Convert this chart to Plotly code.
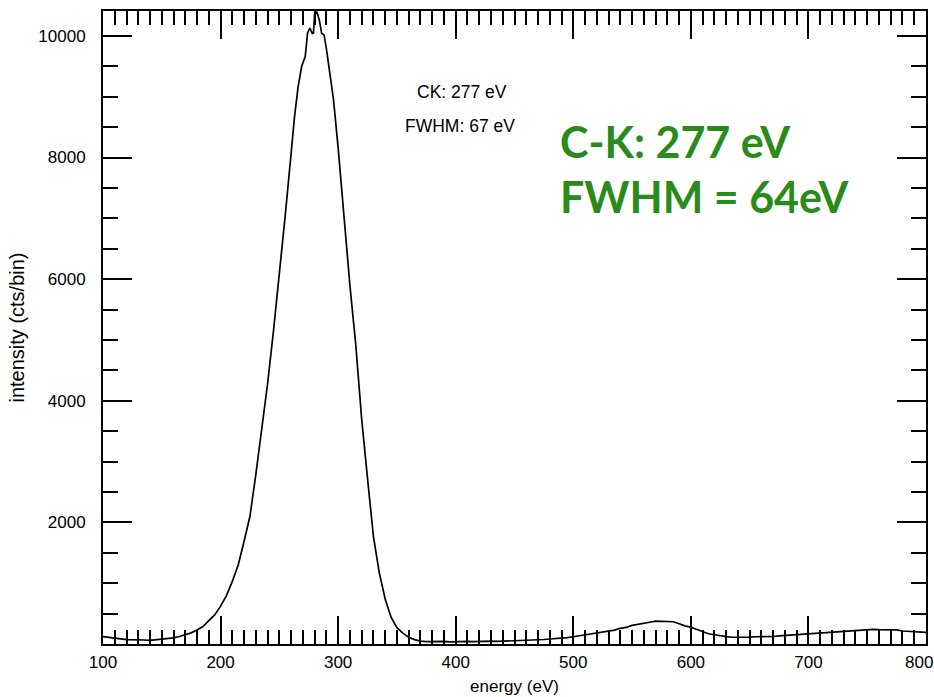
import plotly.graph_objects as go

# Energy grid (eV) and measured counts per bin
energy = [
    100, 105, 110, 115, 120, 125, 130, 135, 140, 145, 150, 155, 160, 165, 170, 175,
    180, 185, 190, 195, 200, 205, 210, 215, 220, 225, 230, 235, 240, 245, 250, 255,
    260, 263, 266, 269, 272, 274, 276, 278, 279, 280, 282, 284, 286, 288, 290, 293,
    296, 300, 305, 310, 315, 320, 325, 330, 335, 340, 345, 350, 355, 360, 365, 370,
    375, 380, 385, 390, 395, 400, 405, 410, 415, 420, 425, 430, 435, 440, 445, 450,
    455, 460, 465, 470, 475, 480, 485, 490, 495, 500, 505, 510, 515, 520, 525, 530,
    535, 540, 545, 550, 555, 560, 565, 570, 575, 580, 585, 590, 595, 600, 605, 610,
    615, 620, 625, 630, 635, 640, 645, 650, 655, 660, 665, 670, 675, 680, 685, 690,
    695, 700, 705, 710, 715, 720, 725, 730, 735, 740, 745, 750, 755, 760, 765, 770,
    775, 780, 785, 790, 795, 800,
]
counts = [
    120, 104, 92, 84, 72, 66, 60, 66, 61, 70, 73, 86, 101, 124, 152, 183,
    232, 288, 384, 478, 622, 796, 1030, 1300, 1690, 2100, 2790, 3520, 4280, 5150, 6080, 7050,
    8070, 8690, 9170, 9500, 9660, 10050, 10130, 10040, 10050, 10350, 10390, 10260, 10040, 10020, 9790, 9390,
    8960, 8160, 7010, 5900, 4920, 3700, 2720, 1770, 1170, 740, 440, 268, 178, 112, 72, 48,
    38, 41, 36, 43, 35, 40, 37, 43, 39, 45, 40, 47, 42, 45, 49, 52,
    50, 58, 61, 71, 74, 82, 88, 99, 106, 119, 133, 152, 163, 180, 189, 207,
    228, 258, 272, 307, 328, 347, 358, 375, 372, 380, 366, 334, 298, 276, 238, 203,
    168, 152, 133, 121, 111, 109, 112, 114, 119, 118, 124, 123, 132, 139, 152, 151,
    166, 168, 177, 178, 192, 193, 203, 212, 222, 226, 234, 233, 242, 236, 238, 233,
    231, 214, 207, 199, 197, 192,
]

x_major = [100, 200, 300, 400, 500, 600, 700, 800]
x_labels = ["100", "200", "300", "400", "500", "600", "700", ""]
y_major = [2000, 4000, 6000, 8000, 10000]

sans = "Liberation Sans, Arial, sans-serif"
axis_font = dict(family=sans, size=17, color="black")
green = "#2a8a1a"

fig = go.Figure()
fig.add_trace(go.Scatter(
    x=energy, y=counts, mode="lines",
    line=dict(color="black", width=1.7),
    showlegend=False,
))

fig.update_xaxes(
    range=[100, 800], automargin=False,
    tickvals=x_major, ticktext=x_labels,
    ticks="inside", ticklen=28, tickwidth=1.5, tickcolor="black",
    minor=dict(dtick=10, tick0=100, ticks="inside", ticklen=14, tickwidth=1.5, tickcolor="black"),
    showline=True, linecolor="black", linewidth=2, mirror="ticks",
    showgrid=False, zeroline=False,
    tickfont=axis_font, ticklabelstandoff=2,
    title=dict(text="energy (eV)", font=axis_font, standoff=9),
)
fig.update_yaxes(
    range=[0, 10410], automargin=False,
    tickvals=y_major, tickformat="d",
    ticks="inside", ticklen=29, tickwidth=1.5, tickcolor="black",
    minor=dict(dtick=500, tick0=0, ticks="inside", ticklen=15, tickwidth=1.5, tickcolor="black"),
    showline=True, linecolor="black", linewidth=2, mirror="ticks",
    showgrid=False, zeroline=False,
    tickfont=axis_font, ticklabelstandoff=12,
    title=dict(text="intensity (cts/bin)", font=dict(family=sans, size=20, color="black"), standoff=8),
)

annotations = [
    # last x tick label, pulled inside the page edge
    dict(x=794, y=0, yshift=-18, text="800", font=axis_font, xanchor="center", yanchor="middle"),
    dict(x=405.3, y=9080, text="CK: 277 eV", font=dict(family=sans, size=17.5, color="black"),
         xanchor="center", yanchor="middle"),
    dict(x=403.6, y=8520, text="FWHM: 67 eV", font=dict(family=sans, size=17.5, color="black"),
         xanchor="center", yanchor="middle"),
    dict(x=487, y=8260, text="<b>C-K: 277 eV</b>", font=dict(family="Lato, sans-serif", size=43, color=green),
         xanchor="left", yanchor="middle"),
    dict(x=487, y=7365, text="<b>FWHM = 64eV</b>", font=dict(family="Lato, sans-serif", size=43, color=green),
         xanchor="left", yanchor="middle"),
]
for a in annotations:
    fig.add_annotation(showarrow=False, xref="x", yref="y", **a)

fig.update_layout(
    width=934, height=697,
    margin=dict(l=103, r=8, t=11, b=53, autoexpand=False),
    paper_bgcolor="white", plot_bgcolor="white",
)

fig.write_html("out.html")
